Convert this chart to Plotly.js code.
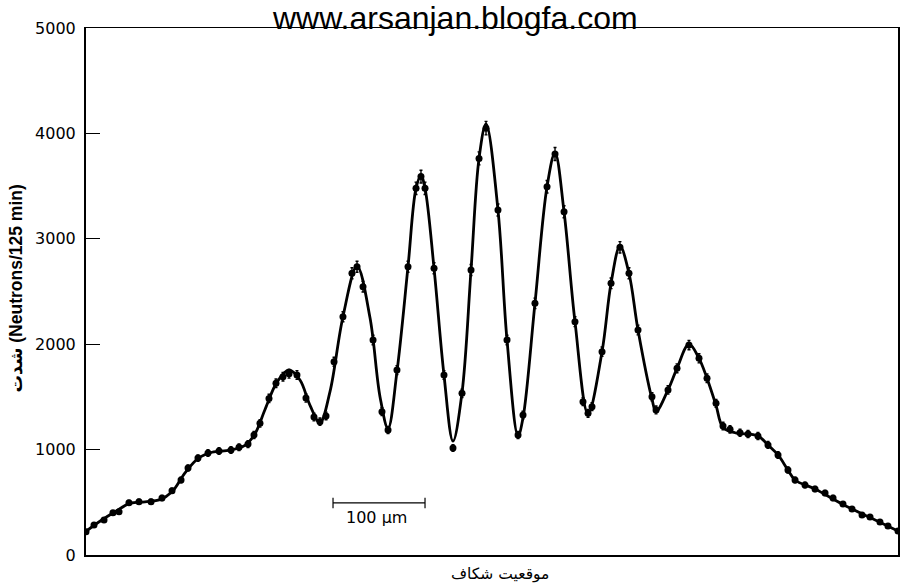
<!DOCTYPE html>
<html>
<head>
<meta charset="utf-8">
<script src="https://cdn.plot.ly/plotly-3.0.1.min.js"></script>
<style>html,body{margin:0;padding:0;background:#fff;}#chart{width:902px;height:587px;}</style>
</head>
<body>
<div id="chart"></div>
<script>
// Slit position (micrometres) and measured intensity (neutrons / 125 min)
const dataX = [0, 8.7, 19.6, 29.3, 35.9, 46.7, 57.6, 70.7, 82.6, 93.5, 103.3, 110.9, 121.7, 132.6, 144.6, 157.6, 166.3, 176.1, 182.6, 189.1, 198.9, 206.5, 214.1, 220.7, 229.3, 239.1, 247.8, 254.3, 260.9, 269.6, 279.3, 289.1, 294.6, 301.1, 312.0, 321.7, 328.3, 338.0, 350.0, 358.7, 364.1, 368.5, 378.3, 389.1, 398.9, 408.7, 418.5, 427.2, 434.8, 447.8, 457.6, 469.6, 475.0, 488.0, 501.1, 509.8, 519.6, 531.5, 540.2, 545.7, 550.0, 560.9, 570.7, 580.4, 590.2, 600.0, 615.2, 619.6, 632.6, 642.4, 655.4, 666.3, 675.0, 684.8, 692.4, 700.0, 710.9, 719.6, 730.4, 741.3, 752.2, 763.0, 770.7, 781.5, 792.4, 803.3, 812.0, 822.8, 832.6, 843.5, 852.2, 863.0, 871.7, 882.6];
const dataY = [221, 285, 332, 401, 411, 496, 506, 506, 541, 610, 712, 825, 920, 968, 987, 996, 1022, 1053, 1139, 1249, 1486, 1629, 1692, 1720, 1708, 1489, 1309, 1265, 1319, 1834, 2261, 2673, 2735, 2546, 2040, 1360, 1186, 1755, 2735, 3479, 3590, 3479, 2720, 1708, 1015, 1534, 2704, 3763, 4050, 3273, 2040, 1139, 1328, 2388, 3494, 3804, 3257, 2214, 1455, 1344, 1407, 1929, 2578, 2919, 2673, 2135, 1502, 1376, 1566, 1771, 1992, 1866, 1677, 1439, 1224, 1192, 1160, 1148, 1129, 1044, 949, 806, 712, 664, 626, 588, 541, 484, 436, 380, 361, 313, 275, 228];

// Fitted (theoretical) curve
const fitX = [0, 15.2, 31.5, 47.8, 64.1, 80.4, 93.5, 107.6, 121.7, 137.0, 156.5, 172.8, 183.7, 194.6, 207.6, 220.7, 232.6, 243.5, 254.3, 265.2, 279.3, 294.6, 308.7, 319.6, 328.3, 338.0, 350.0, 358.7, 364.1, 368.5, 378.3, 389.1, 398.9, 408.7, 418.5, 427.2, 434.8, 447.8, 457.6, 469.6, 475.0, 488.0, 501.1, 509.8, 519.6, 531.5, 545.7, 560.9, 570.7, 580.4, 590.2, 600.0, 615.2, 619.6, 632.6, 642.4, 655.4, 666.3, 675.0, 684.8, 692.4, 705.4, 730.4, 741.3, 752.2, 763.0, 770.7, 792.4, 822.8, 852.2, 882.6];
const fitY = [225, 320, 410, 490, 505, 525, 600, 780, 915, 975, 995, 1040, 1150, 1380, 1640, 1755, 1660, 1420, 1255, 1550, 2261, 2740, 2250, 1500, 1200, 1740, 2735, 3479, 3600, 3479, 2720, 1708, 1080, 1540, 2704, 3763, 4090, 3273, 2040, 1130, 1300, 2388, 3494, 3815, 3257, 2214, 1340, 1929, 2578, 2930, 2673, 2135, 1480, 1360, 1566, 1771, 2000, 1866, 1677, 1420, 1210, 1160, 1130, 1044, 949, 806, 712, 626, 480, 355, 228];

const yTicks = [0, 1000, 2000, 3000, 4000, 5000];
const titleText = "www.arsanjan.blogfa.com";
const xTitle = "موقعیت شکاف";
const yTitle = "شدت (Neutrons/125 min)";
const scaleBarX = [268.5, 368.5];
const scaleBarY = 494;
const scaleBarLabel = "100 μm";

const traces = [
  {
    x: fitX, y: fitY, type: 'scatter', mode: 'lines',
    line: {color: '#000', width: 2.8, shape: 'spline', smoothing: 1},
    hoverinfo: 'skip'
  },
  {
    x: dataX, y: dataY, type: 'scatter', mode: 'markers',
    marker: {color: '#000', size: 7},
    error_y: {type: 'sqrt', visible: true, color: '#000', thickness: 1.4, width: 1.5}
  }
];

const layout = {
  width: 902, height: 587,
  margin: {l: 86, r: 4, t: 28, b: 32},
  paper_bgcolor: '#fff', plot_bgcolor: '#fff',
  showlegend: false,
  font: {family: 'DejaVu Sans, sans-serif', color: '#000'},
  xaxis: {
    range: [0, 882.6], showgrid: false, zeroline: false,
    showticklabels: false, ticks: '',
    showline: true, linecolor: '#000', linewidth: 1.5, mirror: true
  },
  yaxis: {
    range: [0, 5000], tickvals: yTicks, ticktext: yTicks.map(String),
    showgrid: false, zeroline: false,
    ticks: 'inside', ticklen: 14, tickwidth: 1.3, tickcolor: '#000',
    tickfont: {family: 'DejaVu Sans, sans-serif', size: 16, color: '#000'},
    ticklabelstandoff: 5,
    showline: true, linecolor: '#000', linewidth: 2, mirror: true
  },
  shapes: [
    {type: 'line', xref: 'x', yref: 'y', x0: scaleBarX[0], x1: scaleBarX[1], y0: scaleBarY, y1: scaleBarY, line: {color: '#000', width: 1.2}},
    {type: 'line', xref: 'x', yref: 'y', x0: scaleBarX[0], x1: scaleBarX[0], y0: scaleBarY - 50, y1: scaleBarY + 50, line: {color: '#000', width: 1.2}},
    {type: 'line', xref: 'x', yref: 'y', x0: scaleBarX[1], x1: scaleBarX[1], y0: scaleBarY - 50, y1: scaleBarY + 50, line: {color: '#000', width: 1.2}}
  ],
  annotations: [
    {text: titleText, xref: 'paper', yref: 'paper', x: 0.5, y: 1, xanchor: 'center', yanchor: 'bottom',
     xshift: -37, yshift: -10, showarrow: false,
     font: {family: 'Liberation Sans, Arial, sans-serif', size: 32, color: '#000'}},
    {text: xTitle, xref: 'x', yref: 'paper', x: 450, y: 0, xanchor: 'center', yanchor: 'middle',
     yshift: -19, showarrow: false,
     font: {family: 'DejaVu Sans, sans-serif', size: 15.5, color: '#000'}},
    {text: yTitle, xref: 'paper', yref: 'paper', x: 0, y: 0.5, xanchor: 'center', yanchor: 'middle',
     xshift: -71, yshift: 3, textangle: -90, showarrow: false,
     font: {family: 'Liberation Sans, DejaVu Sans, sans-serif', size: 17.5, color: '#000', weight: 'bold'}},
    {text: scaleBarLabel, xref: 'x', yref: 'y', x: 316, y: 360, xanchor: 'center', yanchor: 'middle',
     showarrow: false, font: {family: 'DejaVu Sans, sans-serif', size: 16, color: '#000'}}
  ]
};

Plotly.newPlot('chart', traces, layout, {displayModeBar: false, staticPlot: true});
</script>
</body>
</html>
